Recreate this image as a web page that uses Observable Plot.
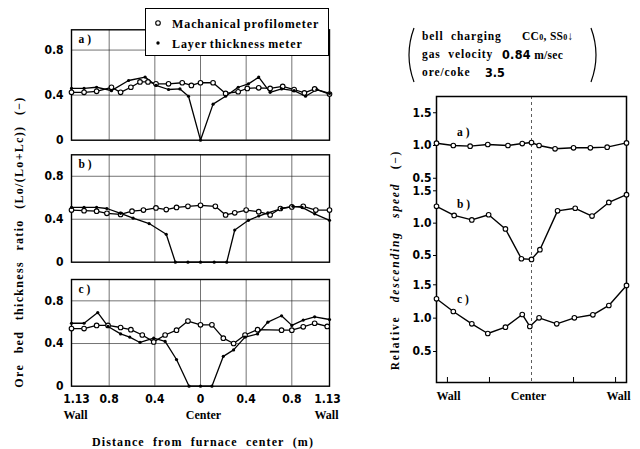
<!DOCTYPE html>
<html><head><meta charset="utf-8">
<script src="https://cdn.jsdelivr.net/npm/d3@7"></script>
<script src="https://cdn.jsdelivr.net/npm/@observablehq/plot@0.6"></script>
<style>
body{margin:0;background:#fff;}
#wrap{position:relative;width:640px;height:449px;overflow:hidden;font-family:"Liberation Serif","DejaVu Serif",serif;font-weight:bold;color:#000}
#wrap svg{position:absolute;left:0;top:0;overflow:visible}
.t{position:absolute;white-space:nowrap;font-size:11.5px;line-height:1;}
.rot{transform-origin:center center;transform:translate(-50%,-50%) rotate(-90deg);}
.num{font-family:"Liberation Sans Narrow","DejaVu Sans Condensed","Roboto",sans-serif;font-stretch:condensed;}
</style></head><body><div id="wrap"></div>
<script>
// ---------- data ----------
// Left panels: ore bed thickness ratio vs distance from furnace center (m, signed)
const profA = [[-1.13,0.425],[-1.02,0.425],[-0.91,0.434],[-0.78,0.47],[-0.70,0.425],[-0.61,0.47],[-0.53,0.517],[-0.46,0.517],[-0.39,0.50],[-0.28,0.50],[-0.16,0.51],[-0.08,0.486],[0,0.51],[0.11,0.51],[0.22,0.415],[0.33,0.43],[0.41,0.46],[0.51,0.465],[0.61,0.46],[0.72,0.477],[0.82,0.45],[0.91,0.42],[1.0,0.455],[1.13,0.41]];
const layerA = [[-1.13,0.46],[-1.02,0.46],[-0.91,0.47],[-0.78,0.44],[-0.63,0.53],[-0.485,0.56],[-0.39,0.486],[-0.28,0.45],[-0.18,0.455],[-0.105,0.39],[0,0.0],[0.11,0.32],[0.22,0.39],[0.33,0.47],[0.42,0.50],[0.51,0.56],[0.61,0.425],[0.71,0.455],[0.82,0.44],[0.92,0.39],[1.02,0.45],[1.13,0.415]];
const profB = [[-1.13,0.485],[-1.02,0.48],[-0.91,0.475],[-0.82,0.455],[-0.70,0.445],[-0.60,0.475],[-0.50,0.485],[-0.39,0.505],[-0.30,0.49],[-0.21,0.51],[-0.11,0.52],[0,0.53],[0.13,0.52],[0.22,0.44],[0.30,0.46],[0.40,0.485],[0.51,0.47],[0.61,0.44],[0.70,0.50],[0.80,0.515],[0.90,0.52],[1.01,0.485],[1.13,0.485]];
const layerB = [[-1.13,0.51],[-1.02,0.51],[-0.91,0.51],[-0.82,0.50],[-0.70,0.455],[-0.59,0.41],[-0.45,0.36],[-0.30,0.26],[-0.22,0],[-0.11,0],[0,0],[0.12,0],[0.23,0],[0.30,0.30],[0.42,0.39],[0.51,0.43],[0.59,0.46],[0.71,0.50],[0.81,0.52],[0.89,0.51],[1.0,0.45],[1.13,0.39]];
const profC = [[-1.13,0.54],[-1.02,0.54],[-0.91,0.57],[-0.81,0.57],[-0.70,0.55],[-0.61,0.53],[-0.51,0.48],[-0.41,0.415],[-0.31,0.48],[-0.21,0.525],[-0.11,0.61],[0,0.575],[0.10,0.575],[0.20,0.45],[0.29,0.40],[0.39,0.48],[0.50,0.53],[0.71,0.525],[0.80,0.525],[0.90,0.556],[1.0,0.59],[1.11,0.56]];
const layerC = [[-1.13,0.59],[-1.02,0.59],[-0.90,0.69],[-0.81,0.56],[-0.70,0.49],[-0.62,0.46],[-0.53,0.41],[-0.41,0.45],[-0.31,0.42],[-0.21,0.25],[-0.10,0],[0,0],[0.10,0],[0.20,0.28],[0.29,0.34],[0.39,0.46],[0.50,0.49],[0.59,0.60],[0.71,0.66],[0.80,0.57],[0.90,0.62],[1.0,0.65],[1.13,0.625]];
// Right panel: relative descending speed
const speedA = [[-1.13,1.035],[-0.93,1.0],[-0.73,0.99],[-0.52,1.015],[-0.28,1.0],[-0.11,1.03],[0,1.045],[0.09,1.0],[0.28,0.95],[0.50,0.965],[0.70,0.965],[0.90,0.975],[1.13,1.04]];
const speedB = [[-1.13,1.26],[-0.92,1.12],[-0.71,1.05],[-0.51,1.13],[-0.31,0.91],[-0.12,0.45],[0,0.44],[0.10,0.59],[0.31,1.19],[0.52,1.23],[0.72,1.11],[0.92,1.32],[1.13,1.44]];
const speedC = [[-1.13,1.29],[-0.93,1.10],[-0.71,0.915],[-0.52,0.77],[-0.31,0.865],[-0.11,1.055],[-0.02,0.875],[0.09,1.005],[0.30,0.915],[0.51,1.005],[0.73,1.05],[0.92,1.19],[1.13,1.49]];
// ticks & labels
const leftInnerXTicks = [-0.8,-0.4,0,0.4,0.8];
const wallLeft = [-1.13], wallRight = [1.13], centerTick = [0];
const leftGridX = [-0.8,-0.4,0,0.4,0.8];
const leftYTicks = [0,0.4,0.8];
const rightYTicks = [0.5,1.0,1.5];
const rightBottomTicks = [-1,-0.5,0.5,1];
const panelLabels = ["a )","b )","c )"];
const legendLabels = ["Machanical  profilometer","Layer  thickness  meter"];

// ---------- drawing ----------
const W = 640, H = 449;
const wrap = document.getElementById("wrap");
const numFont = '"Liberation Sans Narrow","DejaVu Sans Condensed",Roboto,sans-serif';
const serif = '"Liberation Serif","DejaVu Serif",serif';
const baseStyle = {background:"transparent", overflow:"visible", fontFamily:numFont, fontSize:"12px", fontWeight:"bold", color:"#000"};
const X = d => d[0], Y = d => d[1];
const fmtL = d => d === 0 ? "0" : (Math.abs(d) === 1.13 ? "1.13" : Math.abs(d).toFixed(1));
const wallFmt = d => d === 0 ? "Center" : "Wall";

const leftPanels = [
  {top:29.3, bottom:139.7, ymax:0.98, prof:profA, layer:layerA, label:panelLabels[0]},
  {top:154.3, bottom:261.7, ymax:1.0, prof:profB, layer:layerB, label:panelLabels[1]},
  {top:279, bottom:385.7, ymax:1.0, prof:profC, layer:layerC, label:panelLabels[2]}
];
leftPanels.forEach((p, i) => {
  const marks = [
    Plot.gridX(leftGridX, {stroke:"#222", strokeOpacity:0.9, strokeWidth:0.7}),
    Plot.gridY([0.4,0.8], {stroke:"#222", strokeOpacity:0.9, strokeWidth:0.7}),
    Plot.frame({stroke:"#000", strokeWidth:1.4}),
    Plot.axisY(leftYTicks, {tickSize:0, tickPadding:8, tickFormat:fmtL}),
    Plot.line(p.prof, {x:X, y:Y, stroke:"#000", strokeWidth:1.3}),
    Plot.line(p.layer, {x:X, y:Y, stroke:"#000", strokeWidth:1.3}),
    Plot.dot(p.prof, {x:X, y:Y, r:2.3, fill:"white", stroke:"#000", strokeWidth:1.1}),
    Plot.dot(p.layer, {x:X, y:Y, r:1.6, fill:"#000", stroke:"none"}),
    Plot.text([p.label], {text:d=>d, frameAnchor:"top-left", dx:7, dy:5, fontFamily:serif, fontSize:11.5, fontWeight:"bold"})
  ];
  if (i === 2) {
    marks.push(Plot.axisX(leftInnerXTicks, {tickSize:0, tickPadding:8, tickFormat:fmtL}));
    marks.push(Plot.axisX(wallLeft, {tickSize:0, tickPadding:8, tickFormat:fmtL, dx:5}));
    marks.push(Plot.axisX(wallRight, {tickSize:0, tickPadding:8, tickFormat:fmtL, dx:-2}));
    marks.push(Plot.axisX(wallLeft, {tickSize:0, tickPadding:24, tickFormat:wallFmt, fontFamily:serif, fontSize:12, dx:4}));
    marks.push(Plot.axisX(centerTick, {tickSize:0, tickPadding:24, tickFormat:wallFmt, fontFamily:serif, fontSize:12, dx:3}));
    marks.push(Plot.axisX(wallRight, {tickSize:0, tickPadding:24, tickFormat:wallFmt, fontFamily:serif, fontSize:12, dx:-3}));
  }
  wrap.appendChild(Plot.plot({
    width:W, height:H, marginLeft:71, marginRight:W-329, marginTop:p.top, marginBottom:H-p.bottom,
    style:baseStyle,
    x:{domain:[-1.13,1.13], axis:null},
    y:{domain:[0,p.ymax], axis:null},
    marks
  }));
});

// Right panel frame
const rFrame = {marginLeft:436, marginRight:W-626, marginTop:96, marginBottom:H-382};
wrap.appendChild(Plot.plot({
  width:W, height:H, ...rFrame, style:baseStyle,
  x:{domain:[-1.13,1.13], axis:null}, y:{domain:[0,1], axis:null},
  marks:[
    Plot.ruleX([0], {stroke:"#333", strokeWidth:0.8, strokeDasharray:"3,3"}),
    Plot.ruleX(rightBottomTicks, {stroke:"#000", strokeWidth:1, insetTop:281}),
    Plot.frame({stroke:"#000", strokeWidth:1.5}),
    Plot.axisX(wallLeft, {tickSize:0, tickPadding:9, tickFormat:wallFmt, fontFamily:serif, fontSize:12, textAnchor:"start"}),
    Plot.axisX(centerTick, {tickSize:0, tickPadding:9, tickFormat:wallFmt, fontFamily:serif, fontSize:12, dx:-3}),
    Plot.axisX(wallRight, {tickSize:0, tickPadding:9, tickFormat:wallFmt, fontFamily:serif, fontSize:12, textAnchor:"end", dx:4})
  ]
}));
const rightSeries = [
  {data:speedA, range:[177.75,112.25]},
  {data:speedB, range:[255,190.3]},
  {data:speedC, range:[351,284.3]}
];
rightSeries.forEach(s => {
  wrap.appendChild(Plot.plot({
    width:W, height:H, ...rFrame, style:baseStyle,
    x:{domain:[-1.13,1.13], axis:null},
    y:{domain:[0.5,1.5], range:s.range, axis:null},
    marks:[
      Plot.axisY(rightYTicks, {tickSize:3, tickPadding:2, tickFormat:d => d.toFixed(1)}),
      Plot.line(s.data, {x:X, y:Y, stroke:"#000", strokeWidth:1.4}),
      Plot.dot(s.data, {x:X, y:Y, r:2.3, fill:"white", stroke:"#000", strokeWidth:1.1})
    ]
  }));
});

// ---------- texts ----------
function addText(html, css, cls) {
  const d = document.createElement("div");
  d.className = "t " + (cls || "");
  d.innerHTML = html;
  Object.assign(d.style, css);
  wrap.appendChild(d);
  return d;
}
// legend box
const lg = addText("", {left:"145px", top:"8px", width:"184px", height:"48px", border:"1.3px solid #000", background:"#fff", boxSizing:"border-box"});
lg.innerHTML = `<svg width="184" height="48" style="position:absolute;left:-1px;top:-1px;overflow:visible">
  <circle cx="13" cy="15" r="2.3" fill="white" stroke="black" stroke-width="1.1"/>
  <circle cx="13" cy="35" r="1.7" fill="black"/></svg>
  <div class="t" style="left:26px;top:9px;font-size:12px;letter-spacing:0.9px;word-spacing:-1px">${legendLabels[0]}</div>
  <div class="t" style="left:26px;top:29px;font-size:12px;letter-spacing:0.9px;word-spacing:-1px">${legendLabels[1]}</div>`;

// panel labels right
addText(panelLabels[0], {left:"457px", top:"127px"});
addText(panelLabels[1], {left:"457px", top:"199px"});
addText(panelLabels[2], {left:"457px", top:"294px"});

// notes (top right) with thin parentheses
const par = addText("", {left:"0px", top:"0px"});
par.innerHTML = `<svg width="640" height="100" style="position:absolute;left:0;top:0;overflow:visible">
  <path d="M414,28 Q404,55 414,82" fill="none" stroke="#000" stroke-width="1.2"/>
  <path d="M591,28 Q601,55 591,82" fill="none" stroke="#000" stroke-width="1.2"/></svg>`;
addText("bell&nbsp; charging", {left:"422px", top:"31px", letterSpacing:"0.9px"});
addText("CC<span style='font-size:8px'>0</span>, SS<span style='font-size:8px'>0</span>↓", {left:"522px", top:"31px", letterSpacing:"0.3px"});
addText("gas&nbsp; velocity", {left:"422px", top:"49px", letterSpacing:"0.9px"});
addText("<span class='num' style='font-size:12.5px'>0.84</span> m/sec", {left:"502px", top:"49px", letterSpacing:"0.3px"});
addText("ore/coke", {left:"422px", top:"67px", letterSpacing:"0.9px"});
addText("3.5", {left:"485px", top:"67px", fontSize:"12.5px"}, "num");

// axis titles
addText("Distance&nbsp; from&nbsp; furnace&nbsp; center&nbsp; (m)", {left:"92px", top:"436px", fontSize:"12px", letterSpacing:"1.1px"});
addText("Ore&nbsp; bed&nbsp; thickness&nbsp; ratio&nbsp; (Lo/(Lo+Lc))&nbsp; (−)", {left:"19px", top:"242px", fontSize:"12px", letterSpacing:"1.3px", wordSpacing:"1px"}, "rot");
addText("Relative&nbsp; <i>descending&nbsp; speed</i>&nbsp; (−)", {left:"396px", top:"260px", fontSize:"11.5px", letterSpacing:"1.8px", wordSpacing:"2px"}, "rot");
</script></body></html>
